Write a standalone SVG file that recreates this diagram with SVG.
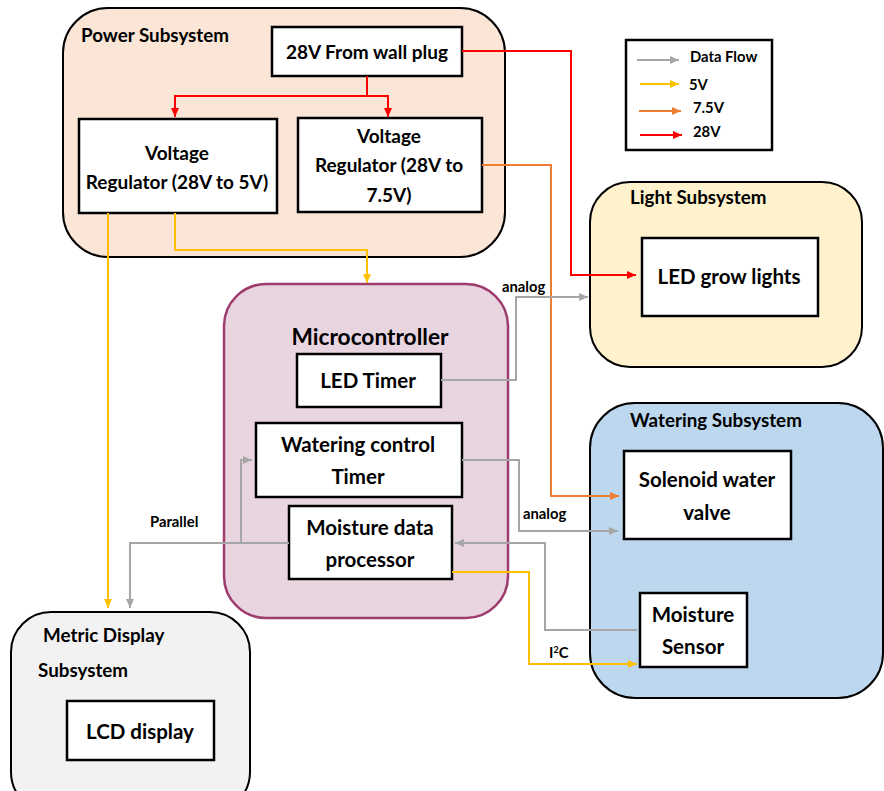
<svg xmlns="http://www.w3.org/2000/svg" width="884" height="791" viewBox="0 0 884 791">
<style>
text{font-family:Lato,"Open Sans","Liberation Sans",sans-serif;font-weight:700;fill:#000}
.box{fill:#fff;stroke:#000;stroke-width:2.5}
.grp{stroke:#000;stroke-width:2}
.t{font-size:19px;text-anchor:middle}
.b{font-size:20.5px;text-anchor:middle}
.h{font-size:18.8px}
.s{font-size:14.8px}
.c{fill:none;stroke-width:2}
.gray{stroke:#a6a6a6}
.red{stroke:#ff0000}
.org{stroke:#ed7d31}
.yel{stroke:#ffc000}
</style>
<defs>
<marker id="ag" markerWidth="9" markerHeight="8" refX="9" refY="4" orient="auto" markerUnits="userSpaceOnUse"><path d="M0,0 L9,4 L0,8 z" fill="#a6a6a6"/></marker>
<marker id="ar" markerWidth="9" markerHeight="8" refX="9" refY="4" orient="auto" markerUnits="userSpaceOnUse"><path d="M0,0 L9,4 L0,8 z" fill="#ff0000"/></marker>
<marker id="ao" markerWidth="9" markerHeight="8" refX="9" refY="4" orient="auto" markerUnits="userSpaceOnUse"><path d="M0,0 L9,4 L0,8 z" fill="#ed7d31"/></marker>
<marker id="ay" markerWidth="9" markerHeight="8" refX="9" refY="4" orient="auto" markerUnits="userSpaceOnUse"><path d="M0,0 L9,4 L0,8 z" fill="#ffc000"/></marker>
</defs>

<g id="power-subsystem">
<rect class="grp" x="63" y="8" width="442" height="249" rx="45" fill="#fbe5d6"/>
<text class="h" x="81" y="42">Power Subsystem</text>
</g>
<g id="light-subsystem">
<rect class="grp" x="590" y="182" width="272" height="185" rx="40" fill="#fff2cc"/>
<text class="h" x="630" y="204">Light Subsystem</text>
</g>
<g id="watering-subsystem">
<rect class="grp" x="590" y="403" width="293" height="295" rx="45" fill="#bdd7ee"/>
<text class="h" x="630" y="427">Watering Subsystem</text>
</g>
<g id="metric-display-subsystem">
<rect class="grp" x="11" y="612" width="239" height="200" rx="40" fill="#f2f2f2"/>
<text class="h" x="43" y="642">Metric Display</text>
<text class="h" x="38" y="677">Subsystem</text>
</g>
<g id="microcontroller">
<rect x="224" y="284" width="284" height="334" rx="42" fill="#e8d5e0" stroke="#9e3c6e" stroke-width="2.5"/>
<text x="370" y="345" style="font-size:22.7px;text-anchor:middle">Microcontroller</text>
</g>

<g id="wall-plug"><rect class="box" x="272" y="27" width="190" height="49"/><text class="t" x="367" y="59">28V From wall plug</text></g>
<g id="regulator-5v"><rect class="box" x="79" y="119" width="198" height="94"/><text class="t" x="177" y="160">Voltage</text><text class="t" x="177" y="189">Regulator (28V to 5V)</text></g>
<g id="regulator-7v5"><rect class="box" x="298" y="118" width="184" height="94"/><text class="t" x="389" y="143">Voltage</text><text class="t" x="389" y="172">Regulator (28V to</text><text class="t" x="389" y="202">7.5V)</text></g>
<g id="led-grow-lights"><rect class="box" x="642" y="238" width="176" height="78"/><text class="b" x="729" y="284">LED grow lights</text></g>
<g id="led-timer"><rect class="box" x="297" y="354" width="144" height="53"/><text class="b" x="368" y="388">LED Timer</text></g>
<g id="watering-timer"><rect class="box" x="256" y="423" width="206" height="74"/><text class="b" x="358" y="452">Watering control</text><text class="b" x="358" y="484">Timer</text></g>
<g id="moisture-processor"><rect class="box" x="289" y="506" width="163" height="73"/><text class="b" x="370" y="535">Moisture data</text><text class="b" x="370" y="567">processor</text></g>
<g id="solenoid-valve"><rect class="box" x="624" y="451" width="167" height="88"/><text class="b" x="707" y="487">Solenoid water</text><text class="b" x="707" y="520">valve</text></g>
<g id="moisture-sensor"><rect class="box" x="640" y="593" width="107" height="74"/><text class="b" x="693" y="622">Moisture</text><text class="b" x="693" y="654">Sensor</text></g>
<g id="lcd-display"><rect class="box" x="67" y="701" width="147" height="59"/><text class="b" x="140" y="739">LCD display</text></g>

<g id="legend">
<rect x="626" y="40" width="146" height="110" fill="#fff" stroke="#000" stroke-width="2.5"/>
<path class="c gray" d="M637,60 H679" marker-end="url(#ag)"/>
<text class="s" x="690" y="62">Data Flow</text>
<path class="c yel" d="M640,84 H679" marker-end="url(#ay)"/>
<text class="s" x="689" y="90">5V</text>
<path class="c org" d="M639,111 H681" marker-end="url(#ao)"/>
<text class="s" x="693" y="113">7.5V</text>
<path class="c red" d="M640,135 H682" marker-end="url(#ar)"/>
<text class="s" x="693" y="137">28V</text>
</g>

<g id="connectors">
<path class="c red" d="M367,76 V96"/>
<path class="c red" d="M367,96 H175 V117" marker-end="url(#ar)"/>
<path class="c red" d="M367,96 H388 V117" marker-end="url(#ar)"/>
<path class="c red" d="M462,51 H571 V275 H636" marker-end="url(#ar)"/>
<path class="c org" d="M482,165 H551 V496 H619" marker-end="url(#ao)"/>
<path class="c yel" d="M108,213 V608" marker-end="url(#ay)"/>
<path class="c yel" d="M175,213 V250 H367 V283" marker-end="url(#ay)"/>
<path class="c yel" d="M452,572 H529 V664 H637" marker-end="url(#ay)"/>
<path class="c gray" d="M441,380 H516 V297 H588" marker-end="url(#ag)"/>
<path class="c gray" d="M462,460 H519 V531 H618" marker-end="url(#ag)"/>
<path class="c gray" d="M637,630 H545 V543 H455" marker-end="url(#ag)"/>
<path class="c gray" d="M289,543 H130 V608" marker-end="url(#ag)"/>
<path class="c gray" d="M241,543 V460 H252" marker-end="url(#ag)"/>
<text class="s" x="502" y="292">analog</text>
<text class="s" x="523" y="519">analog</text>
<text class="s" x="150" y="527">Parallel</text>
<text class="s" x="549" y="658">I<tspan dy="-5" style="font-size:9px">2</tspan><tspan dy="5">C</tspan></text>
</g>
</svg>
